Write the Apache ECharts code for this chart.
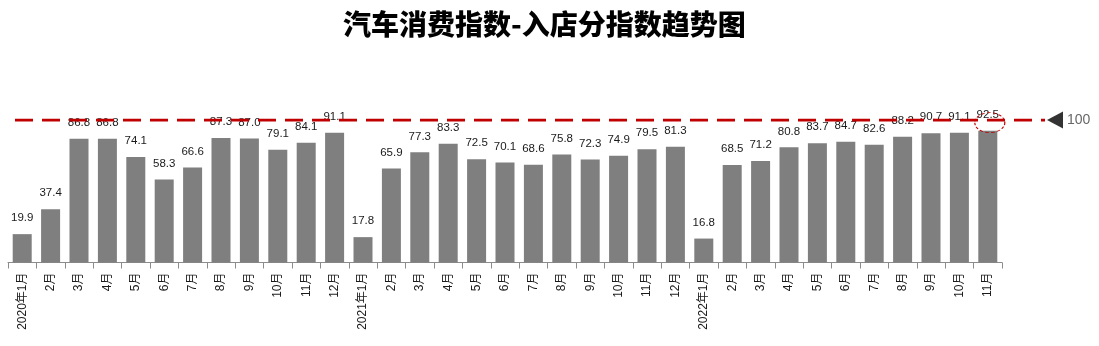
<!DOCTYPE html>
<html>
<head>
<meta charset="utf-8">
<script src="https://cdn.jsdelivr.net/npm/echarts@6/dist/echarts.min.js"></script>
<style>
  html, body { margin: 0; padding: 0; background: #fff; }
  #chart { width: 1099px; height: 346px; }
</style>
</head>
<body>
<div id="chart"></div>
<script>
// Monthly store-visit sub-index of the auto consumption index
const months = [
  '2020年1月', '2月', '3月', '4月', '5月', '6月', '7月', '8月', '9月', '10月', '11月', '12月',
  '2021年1月', '2月', '3月', '4月', '5月', '6月', '7月', '8月', '9月', '10月', '11月', '12月',
  '2022年1月', '2月', '3月', '4月', '5月', '6月', '7月', '8月', '9月', '10月', '11月'
];
const indexValues = [
  19.9, 37.4, 86.8, 86.8, 74.1, 58.3, 66.6, 87.3, 87.0, 79.1, 84.1, 91.1,
  17.8, 65.9, 77.3, 83.3, 72.5, 70.1, 68.6, 75.8, 72.3, 74.9, 79.5, 81.3,
  16.8, 68.5, 71.2, 80.8, 83.7, 84.7, 82.6, 88.2, 90.7, 91.1, 92.5
];
const baseline = 100;
const titleText = '汽车消费指数-入店分指数趋势图';

const lastIdx = indexValues.length - 1;
const numFont = 'Liberation Sans, Arial, sans-serif';

const chart = echarts.init(document.getElementById('chart'), null, { renderer: 'canvas' });

chart.setOption({
  animation: false,
  backgroundColor: '#ffffff',
  title: {
    text: titleText,
    left: 338,
    top: 5,
    textStyle: {
      fontFamily: 'Noto Sans CJK SC',
      fontWeight: 900,
      fontSize: 28,
      color: '#000'
    }
  },
  grid: [
    { left: 8, right: 97, top: 120, bottom: 83.5, containLabel: false },
    { left: 15, right: 54, top: 120, bottom: 83.5, containLabel: false }
  ],
  xAxis: [
    {
      type: 'category',
      gridIndex: 0,
      data: months,
      boundaryGap: true,
      axisLine: { lineStyle: { color: '#8c8c8c', width: 1 } },
      axisTick: { show: true, interval: 0, length: 6, lineStyle: { color: '#8c8c8c' } },
      axisLabel: {
        interval: 0,
        rotate: 90,
        margin: 10,
        fontSize: 12,
        color: '#1a1a1a',
        fontFamily: 'Liberation Sans, Noto Sans CJK SC, sans-serif'
      }
    },
    { type: 'value', gridIndex: 1, min: 0, max: 1, show: false }
  ],
  yAxis: [
    { type: 'value', gridIndex: 0, min: 0, max: 100, show: false },
    { type: 'value', gridIndex: 1, min: 0, max: 100, show: false }
  ],
  series: [
    {
      type: 'bar',
      xAxisIndex: 0,
      yAxisIndex: 0,
      data: indexValues,
      barWidth: 19,
      itemStyle: { color: '#7f7f7f' },
      label: {
        show: true,
        position: 'top',
        distance: 10,
        fontSize: 11.5,
        color: '#1a1a1a',
        fontFamily: numFont,
        formatter: p => p.value.toFixed(1)
      },
      markPoint: {
        silent: true,
        symbol: 'circle',
        symbolSize: [30, 20],
        symbolOffset: [2, -8],
        itemStyle: {
          color: 'rgba(0,0,0,0)',
          borderColor: '#c00000',
          borderWidth: 1,
          borderType: [3, 2]
        },
        label: { show: false },
        data: [{ coord: [lastIdx, indexValues[lastIdx]] }]
      },
      z: 2
    },
    {
      // reference level line at 100
      type: 'line',
      xAxisIndex: 1,
      yAxisIndex: 1,
      data: [[0, baseline], [1, baseline]],
      symbol: 'none',
      lineStyle: { color: '#c00000', width: 3, type: [18, 9] },
      silent: true,
      z: 3
    },
    {
      // pointer and value at the end of the reference line
      type: 'scatter',
      xAxisIndex: 1,
      yAxisIndex: 1,
      data: [[1, baseline]],
      clip: false,
      symbol: 'triangle',
      symbolSize: [17, 16],
      symbolRotate: 90,
      symbolOffset: [10, 0],
      itemStyle: { color: '#000' },
      label: {
        show: true,
        position: 'right',
        distance: 4,
        formatter: String(baseline),
        fontSize: 14,
        color: '#404040',
        fontFamily: numFont
      },
      silent: true,
      z: 4
    }
  ]
});
</script>
</body>
</html>
